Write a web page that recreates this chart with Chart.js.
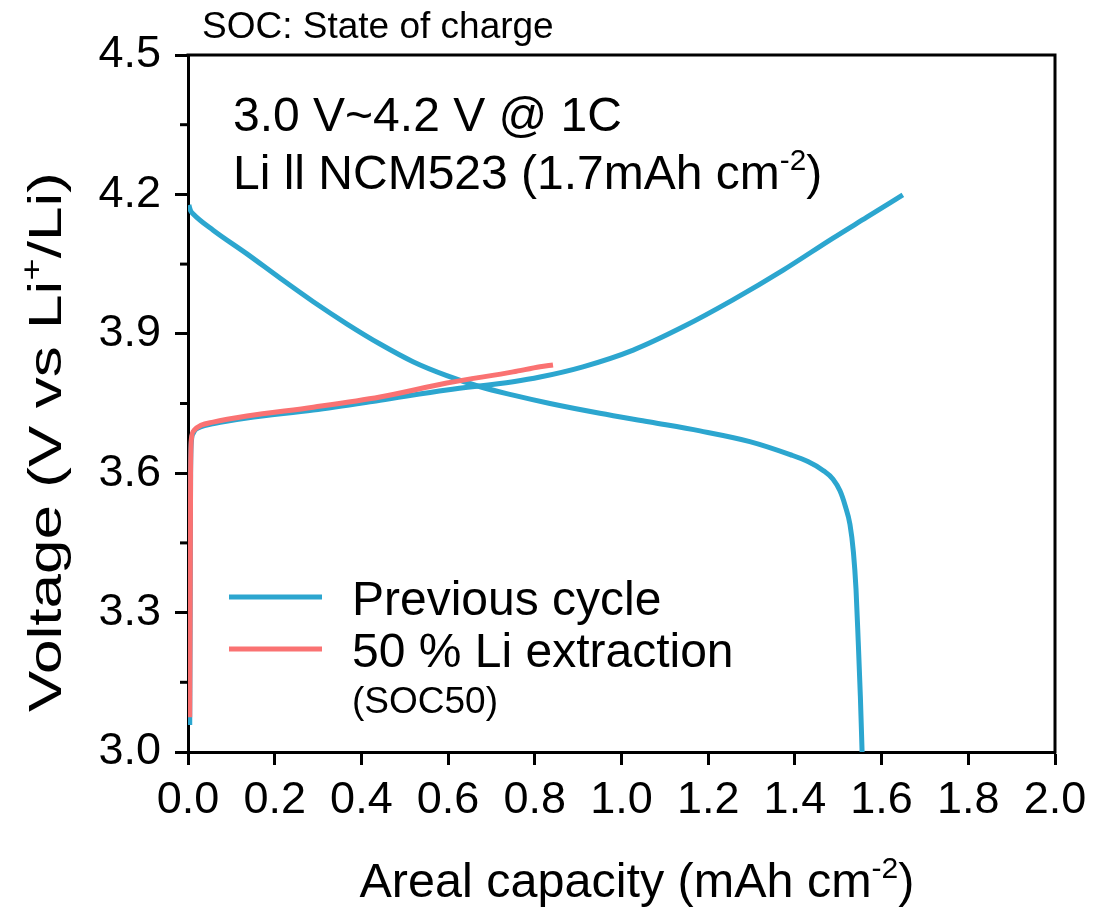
<!DOCTYPE html>
<html>
<head>
<meta charset="utf-8">
<script src="https://cdn.jsdelivr.net/npm/chart.js@4.4.0/dist/chart.umd.min.js"></script>
<style>
  html, body { margin: 0; padding: 0; background: #fff; }
  #wrap { width: 1101px; height: 916px; }
</style>
</head>
<body>
<div id="wrap"><canvas id="chart" width="1101" height="916"></canvas></div>
<script>
const FONT = '"Liberation Sans", Arial, Helvetica, sans-serif';
const BLUE = '#2ca6cf';
const RED = '#fa7272';

// Previous cycle - charge (capacity mAh cm-2, voltage V)
const prevChargeCap = [0.004, 0.005, 0.006, 0.008, 0.012, 0.028, 0.06, 0.136, 0.289, 0.443, 0.597, 0.75, 0.812, 0.911, 1.027, 1.142, 1.257, 1.373, 1.488, 1.566, 1.649];
const prevChargeV   = [3.058, 3.30, 3.60, 3.670, 3.686, 3.699, 3.707, 3.719, 3.736, 3.757, 3.779, 3.797, 3.807, 3.829, 3.865, 3.915, 3.973, 4.037, 4.106, 4.151, 4.199];

// Previous cycle - discharge
const prevDischargeCap = [0.002, 0.006, 0.012, 0.058, 0.136, 0.212, 0.289, 0.367, 0.443, 0.519, 0.597, 0.674, 0.75, 0.835, 0.95, 1.066, 1.181, 1.296, 1.389, 1.43, 1.465, 1.488, 1.504, 1.516, 1.527, 1.535, 1.541, 1.546, 1.551, 1.555];
const prevDischargeV   = [4.177, 4.165, 4.158, 4.123, 4.072, 4.020, 3.969, 3.921, 3.878, 3.840, 3.810, 3.786, 3.768, 3.750, 3.729, 3.710, 3.691, 3.668, 3.640, 3.625, 3.606, 3.587, 3.562, 3.530, 3.490, 3.430, 3.350, 3.240, 3.120, 3.000];

// 50 % Li extraction (SOC50) - charge
const socCap = [0.004, 0.005, 0.006, 0.008, 0.014, 0.03, 0.058, 0.136, 0.289, 0.443, 0.597, 0.75, 0.812, 0.842];
const socV   = [3.075, 3.30, 3.60, 3.675, 3.692, 3.703, 3.710, 3.723, 3.742, 3.764, 3.794, 3.818, 3.829, 3.833];

const legendLabels = ['Previous cycle', '50 % Li extraction'];
const legendSubLabel = '(SOC50)';
const yMinorTicks = [3.15, 3.45, 3.75, 4.05, 4.35];

function toPoints(xs, ys) {
  return xs.map((x, i) => ({ x: x, y: ys[i] }));
}

function measureRich(ctx, parts, size) {
  let total = 0;
  parts.forEach(p => {
    ctx.font = (p[1] ? size * 0.62 : size) + 'px ' + FONT;
    total += ctx.measureText(p[0]).width;
  });
  return total;
}

// texte avec exposant : parts = [[texte, estExposant], ...]
function drawRich(ctx, parts, x, y, size, align) {
  const total = measureRich(ctx, parts, size);
  let cx = align === 'center' ? x - total / 2 : x;
  ctx.textAlign = 'left';
  parts.forEach(p => {
    const s = p[1] ? size * 0.62 : size;
    ctx.font = s + 'px ' + FONT;
    ctx.fillText(p[0], cx, p[1] ? y - size * 0.4 : y);
    cx += ctx.measureText(p[0]).width;
  });
}

const decor = {
  id: 'decor',
  afterDraw(chart) {
    const ctx = chart.ctx;
    const a = chart.chartArea;
    const yScale = chart.scales.y;
    ctx.save();

    // cadre haut / droite
    ctx.strokeStyle = '#000';
    ctx.lineWidth = 3;
    ctx.beginPath();
    ctx.moveTo(a.left - 1.5, a.top);
    ctx.lineTo(a.right, a.top);
    ctx.lineTo(a.right, a.bottom + 1.5);
    ctx.stroke();

    // petites graduations Y
    yMinorTicks.forEach(v => {
      const py = yScale.getPixelForValue(v);
      ctx.beginPath();
      ctx.moveTo(a.left - 8, py);
      ctx.lineTo(a.left, py);
      ctx.stroke();
    });

    ctx.fillStyle = '#000';
    ctx.textBaseline = 'alphabetic';

    // titre en haut
    ctx.font = '37px ' + FONT;
    ctx.textAlign = 'left';
    ctx.fillText('SOC: State of charge', 202, 38);

    // annotations
    ctx.font = '48px ' + FONT;
    ctx.fillText('3.0 V~4.2 V @ 1C', 233, 131);
    drawRich(ctx, [['Li ll NCM523 (1.7mAh cm', false], ['-2', true], [')', false]], 233, 189, 48, 'left');

    // titre axe X
    drawRich(ctx, [['Areal capacity (mAh cm', false], ['-2', true], [')', false]], 637, 897, 48.5, 'center');

    // titre axe Y (étiré dans le sens du texte comme l'original)
    const yTitle = [['Voltage (V vs Li', false], ['+', true], ['/Li)', false]];
    const ySize = 47;
    const k = 540 / measureRich(ctx, yTitle, ySize);
    ctx.save();
    ctx.translate(61, 442);
    ctx.rotate(-Math.PI / 2);
    ctx.scale(k, 1);
    drawRich(ctx, yTitle, 0, 0, ySize, 'center');
    ctx.restore();

    // légende
    const colors = [BLUE, RED];
    const rows = [597, 649];
    ctx.lineWidth = 5;
    legendLabels.forEach((lab, i) => {
      ctx.strokeStyle = colors[i];
      ctx.beginPath();
      ctx.moveTo(229, rows[i]);
      ctx.lineTo(322, rows[i]);
      ctx.stroke();
      ctx.font = '48px ' + FONT;
      ctx.fillText(lab, 352, rows[i] + 18);
    });
    ctx.font = '37px ' + FONT;
    ctx.fillText(legendSubLabel, 352, 713);

    ctx.restore();
  }
};

const ctx = document.getElementById('chart').getContext('2d');

new Chart(ctx, {
  type: 'line',
  data: {
    datasets: [
      {
        label: 'Previous cycle',
        data: toPoints(prevChargeCap, prevChargeV),
        borderColor: BLUE,
        borderWidth: 5,
        pointRadius: 0,
        cubicInterpolationMode: 'monotone',
        order: 3
      },
      {
        label: 'Previous cycle (discharge)',
        data: toPoints(prevDischargeCap, prevDischargeV),
        borderColor: BLUE,
        borderWidth: 5,
        pointRadius: 0,
        cubicInterpolationMode: 'monotone',
        order: 2
      },
      {
        label: '50 % Li extraction',
        data: toPoints(socCap, socV),
        borderColor: RED,
        borderWidth: 5,
        pointRadius: 0,
        cubicInterpolationMode: 'monotone',
        order: 1
      }
    ]
  },
  options: {
    responsive: false,
    animation: false,
    layout: { padding: { left: 0, top: 55, right: 46, bottom: 0 } },
    plugins: {
      legend: { display: false },
      tooltip: { enabled: false },
      title: { display: false }
    },
    scales: {
      x: {
        type: 'linear',
        min: 0,
        max: 2,
        ticks: {
          stepSize: 0.2,
          color: '#000',
          font: { size: 45, family: FONT },
          padding: 9,
          maxRotation: 0,
          autoSkip: false,
          callback: v => Number(v).toFixed(1)
        },
        grid: { drawOnChartArea: false, tickLength: 13, tickWidth: 3, tickColor: '#000' },
        border: { color: '#000', width: 3 },
        afterFit: s => { s.height = 164; }
      },
      y: {
        type: 'linear',
        min: 3.0,
        max: 4.5,
        ticks: {
          stepSize: 0.3,
          color: '#000',
          font: { size: 45, family: FONT },
          padding: 14,
          callback: v => Number(v).toFixed(1)
        },
        grid: { drawOnChartArea: false, tickLength: 13, tickWidth: 3, tickColor: '#000' },
        border: { color: '#000', width: 3 },
        afterFit: s => { s.width = 188; }
      }
    }
  },
  plugins: [decor]
});
</script>
</body>
</html>
